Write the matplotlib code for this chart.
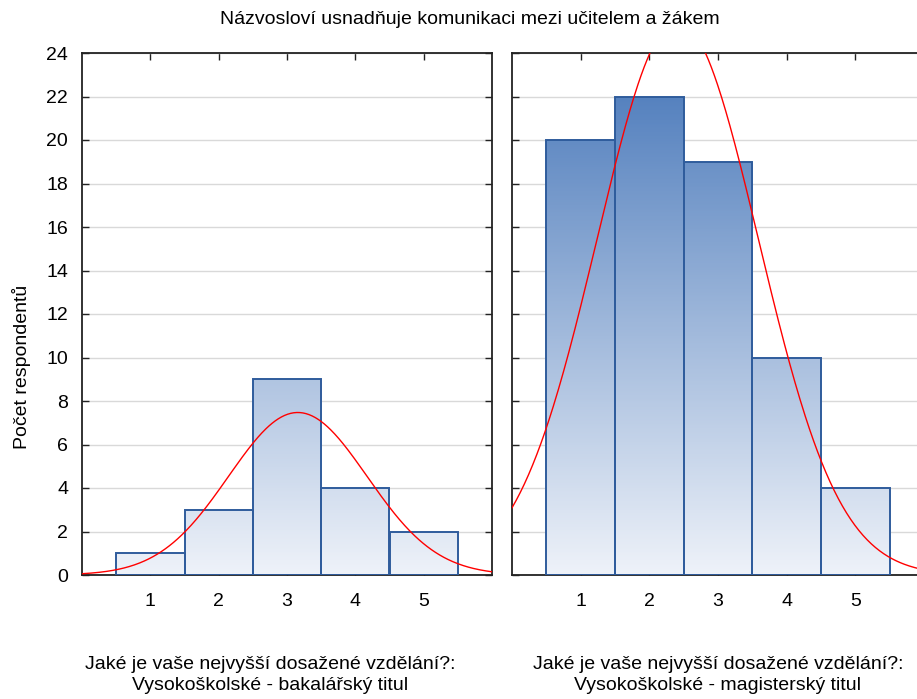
import numpy as np
import matplotlib
matplotlib.use("Agg")
import matplotlib.pyplot as plt
from matplotlib.colors import LinearSegmentedColormap

plt.rcParams['font.family'] = ['Liberation Sans', 'DejaVu Sans']

categories = [1, 2, 3, 4, 5]
counts_bc = [1, 3, 9, 4, 2]
counts_mgr = [20, 22, 19, 10, 4]
title = "Názvosloví usnadňuje komunikaci mezi učitelem a žákem"
xlabels = ["Jaké je vaše nejvyšší dosažené vzdělání?:\nVysokoškolské - bakalářský titul",
           "Jaké je vaše nejvyšší dosažené vzdělání?:\nVysokoškolské - magisterský titul"]
ylabel = "Počet respondentů"

cmap = LinearSegmentedColormap.from_list("bars", ["#eef2f9", "#5682bf"])
edge = "#2f5c9c"

fig = plt.figure(figsize=(9.17, 6.99), dpi=100)
ax1 = fig.add_axes([82/917, 1-575/699, 410/917, 522/699])
ax2 = fig.add_axes([512/917, 1-575/699, 412/917, 522/699])


def draw(ax, counts):
    x = np.array(categories, dtype=float)
    c = np.array(counts, dtype=float)
    ax.set_yticks(range(0, 25, 2))
    ax.set_xticks(categories)
    ax.grid(axis='y', color='#d9d9d9', lw=1)
    ax.set_axisbelow(True)
    grad = np.linspace(0, 1, 256).reshape(-1, 1) * (24 / 22.0)
    for xi, h in zip(x, c):
        bar = ax.bar(xi, h, width=1, facecolor='none', edgecolor=edge, lw=1.4, zorder=3)[0]
        im = ax.imshow(grad, cmap=cmap, vmin=0, vmax=1, origin='lower', aspect='auto',
                       extent=[0, 6, 0, 24], zorder=2)
        im.set_clip_path(bar)
    # normal fit
    n = c.sum()
    m = (x * c).sum() / n
    sd = np.sqrt(((x - m) ** 2 * c).sum() / (n - 1))
    xs = np.linspace(0, 6, 400)
    ys = n / (sd * np.sqrt(2 * np.pi)) * np.exp(-0.5 * ((xs - m) / sd) ** 2)
    ax.plot(xs, ys, color='red', lw=1, zorder=4)
    ax.set_xlim(0, 6)
    ax.set_ylim(0, 24)
    ax.tick_params(direction='in', top=True, right=True, length=5, width=1,
                   labelsize=14, color='#222222')
    ax.tick_params(axis='x', pad=13)
    ax.tick_params(axis='y', pad=10)
    for s in ax.spines.values():
        s.set_color('#222222')
        s.set_linewidth(1.3)


draw(ax1, counts_bc)
draw(ax2, counts_mgr)
ax2.tick_params(labelleft=False)

fig.text(22/917, 1-367/699, ylabel, rotation=90, ha='center', va='center', fontsize=14)
fig.text(470/917, 1-19/699, title, ha='center', va='center', fontsize=14)
fig.text(270/917, 1-675/699, xlabels[0], ha='center', va='center', fontsize=14, linespacing=1.35)
fig.text(718/917, 1-675/699, xlabels[1], ha='center', va='center', fontsize=14, linespacing=1.35)

fig.savefig("out.png", dpi=100)
